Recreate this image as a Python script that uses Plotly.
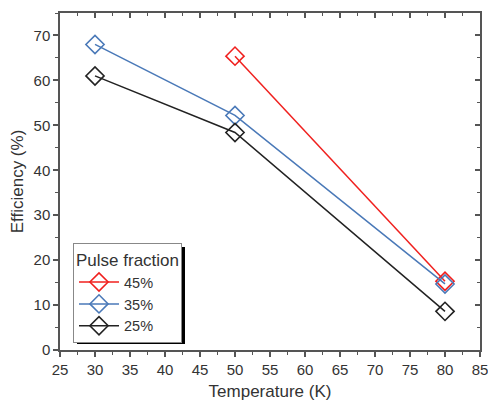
import plotly.graph_objects as go

temps_45 = [50, 80]
eff_45 = [65.4, 15.3]
temps_35 = [30, 50, 80]
eff_35 = [68.0, 52.2, 14.7]
temps_25 = [30, 50, 80]
eff_25 = [61.0, 48.4, 8.6]

series = [
    ("45%", temps_45, eff_45, "#f0201e"),
    ("35%", temps_35, eff_35, "#4a79b8"),
    ("25%", temps_25, eff_25, "#222222"),
]

fig = go.Figure()
for name, xs, ys, col in series:
    fig.add_trace(go.Scatter(
        x=xs, y=ys, name=name, mode="lines+markers",
        line=dict(color=col, width=1.5),
        marker=dict(symbol="diamond-open", size=14, color=col, line=dict(width=1.6, color=col)),
    ))
fig.add_trace(go.Scatter(x=[None], y=[None], xaxis="x2", yaxis="y2", showlegend=False, hoverinfo="skip"))

W, H = 488, 405
L, R, T, B = 60, 8, 13, 55
pw, ph = W - L - R, H - T - B  # 420 x 337

def px_x(x):  # screen x -> paper
    return (x - L) / pw

def px_y(y):  # screen y -> paper
    return (H - B - y) / ph

axis_common = dict(
    showgrid=False, zeroline=False, showline=True, linecolor="#555555", linewidth=1.5,
    ticklen=5, tickwidth=1.5, tickcolor="#555555", automargin=False,
)
fig.update_layout(
    width=W, height=H,
    margin=dict(l=L, r=R, t=T, b=B),
    plot_bgcolor="white", paper_bgcolor="white",
    font=dict(family="Arial, Liberation Sans, sans-serif", color="#333333"),
    xaxis=dict(range=[25, 85], tickvals=list(range(25, 90, 5)), ticks="outside",
               ticklabeloverflow="allow",
               minor=dict(ticks="outside", ticklen=3, tickwidth=1.2, tickcolor="#555555", dtick=2.5),
               title=dict(text="Temperature (K)", font=dict(size=17), standoff=8),
               tickfont=dict(size=15), **axis_common),
    yaxis=dict(range=[0, 75], tickvals=list(range(0, 80, 10)), ticks="outside",
               ticklabeloverflow="allow",
               minor=dict(ticks="outside", ticklen=3, tickwidth=1.2, tickcolor="#555555", dtick=5),
               title=dict(text="Efficiency (%)", font=dict(size=17), standoff=6),
               tickfont=dict(size=15), **axis_common),
    xaxis2=dict(overlaying="x", side="top", matches="x", ticks="inside", showticklabels=False,
                tickvals=list(range(25, 90, 5)),
                minor=dict(ticks="inside", ticklen=3, tickwidth=1.2, tickcolor="#555555", dtick=2.5),
                **axis_common),
    yaxis2=dict(overlaying="y", side="right", matches="y", ticks="inside", showticklabels=False,
                tickvals=list(range(0, 80, 10)),
                minor=dict(ticks="inside", ticklen=3, tickwidth=1.2, tickcolor="#555555", dtick=5),
                **axis_common),
    legend=dict(
        x=px_x(73), y=px_y(243), xanchor="left", yanchor="top",
        bgcolor="white", bordercolor="#888888", borderwidth=1,
        title=dict(text="Pulse fraction", font=dict(size=17)),
        font=dict(size=14.5), tracegroupgap=0, itemwidth=40,
    ),
    showlegend=True,
)
fig.add_shape(type="rect", xref="paper", yref="paper", layer="above",
              x0=px_x(77), x1=px_x(185),
              y0=px_y(344), y1=px_y(247),
              fillcolor="black", line=dict(width=0))
fig.write_html("out.html", config={"displayModeBar": False},
               post_script="document.body.style.margin='0';document.body.style.overflow='hidden';")
